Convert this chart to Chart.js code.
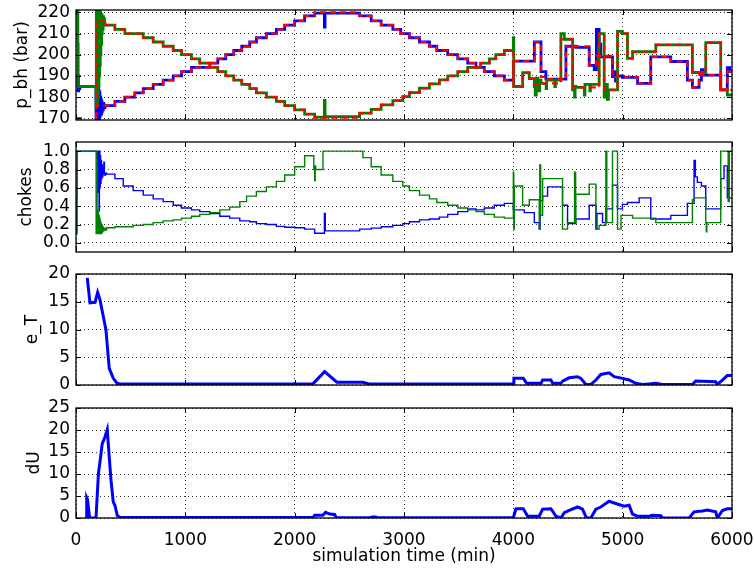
<!DOCTYPE html>
<html>
<head>
<meta charset="utf-8">
<script src="https://cdn.jsdelivr.net/npm/chart.js@4.4.0/dist/chart.umd.min.js"></script>
<style>
html, body { margin: 0; padding: 0; background: #fff; }
#wrap { position: relative; width: 754px; height: 569px; }
#wrap canvas { position: absolute; left: 0; top: 0; }
</style>
</head>
<body>
<div id="wrap">
  <canvas id="c1" width="754" height="569"></canvas>
  <canvas id="c2" width="754" height="569"></canvas>
  <canvas id="c3" width="754" height="569"></canvas>
  <canvas id="c4" width="754" height="569"></canvas>
</div>
<script>
// tick labels
const xTicks = [0, 1000, 2000, 3000, 4000, 5000, 6000]
const pbhTicks = [170, 180, 190, 200, 210, 220]
const chokeTicks = [0, 0.2, 0.4, 0.6, 0.8, 1.0]
const eTTicks = [0, 5, 10, 15, 20]
const dUTicks = [0, 5, 10, 15, 20, 25]

// p_bh, pairs of [time (min), bar]; each value holds until the next time
const pbhBlue = [
  [0,190],[18,183],[25,184],[35,185],
  [183,168],[186,190],[189,168],[192,188],[195,169],[198,186],[201,168],[204,185],[207,170],[210,183],
  [213,169],[216,182],[219,171],[222,180],[225,172],[228,179],[231,172],[234,178],[237,173],[240,177],
  [245,174],[250,177],[255,175],
  [265,176],[356,178],[447,180],[538,182],[615,184],[706,186],[797,188],[889,190],[965,192],[1056,194],
  [1224,196],[1297,198],[1370,200],[1443,202],[1516,204],[1589,206],[1650,208],[1741,210],[1833,212],
  [1909,214],[2000,216],[2091,218.3],[2183,219.6],[2272,213],[2278,219.6],
  [2594,218.3],[2700,216],[2791,214],[2898,212],[2970,210],[3050,208],[3142,206],[3233,204],[3300,202],
  [3400,200],[3492,198],[3583,196],[3659,194],[3735,192],[3826,190],[3918,188],
  [4000,197],[4192,206],[4253,192],[4298,188.5],[4481,204],[4572,203.5],[4694,195],[4740,193],[4760,212],
  [4785,205],[4800,199],[4831,199],[4907,189.7],[4920,192],[4935,187.5],[4950,190],[4998,189.3],
  [5136,186.5],[5257,199],[5440,196.8],[5592,188],[5638,184.6],[5699,188],[5720,193],[5740,190.4],
  [5897,183.4],[5957,193.9],[5980,192],[6000,192]
]
const pbhGreen = [
  [0,221],[14,221],[17,205],[20,190],[24,185],
  [183,175],[186,221],[189,178],[192,221],[195,176],[198,221],[201,180],[204,221],[207,185],[210,221],
  [213,190],[216,221],[219,195],[222,220],[225,200],[228,219],[231,205],[234,219],[237,210],[240,218],
  [244,212],[248,218],[252,214],[256,217],[260,215],
  [265,214],[356,212],[447,210],[615,208],[706,206],[797,204],[889,202],[965,200],[1056,198],[1132,196],
  [1224,194],[1297,192],[1370,190],[1443,188],[1516,186],[1589,184],[1650,182],[1741,180],[1833,178],
  [1909,176],[2000,174],[2091,172],[2183,170.6],[2272,178.5],[2278,170.8],
  [2594,172.4],[2700,174.2],[2791,176.3],[2898,178.3],[2989,180.2],[3050,182.1],[3142,184.2],[3233,186.2],
  [3324,188.1],[3400,190],[3492,192],[3583,194],[3700,196],[3781,198],[3840,200],[3918,202],
  [4000,208],[4004,185],[4085,191.5],[4146,188.7],[4192,185],[4200,181],[4210,189],[4225,183],[4240,188],
  [4253,186.5],[4300,184],[4305,188],[4380,185],[4385,188],[4435,210],[4466,207.3],[4542,183.4],
  [4560,180],[4565,185],[4572,184.6],[4650,181],[4655,186],[4700,183],[4705,186],[4785,210],[4831,180],
  [4845,186],[4860,179],[4870,183.4],[4953,211],[4998,210],[5044,198.3],[5090,201.4],[5303,204.6],
  [5638,191.6],[5760,205.7],[5897,183.4],[5957,181],[6000,181]
]
const pbhRef1 = [
  [0,170],[80,170],[81,null],[183,170],[185,216],
  [265,214],[356,212],[447,210],[615,208],[706,206],[797,204],[889,202],[965,200],[1056,198],[1132,196],
  [1224,194],[1297,192],[1370,190],[1443,188],[1516,186],[1589,184],[1650,182],[1741,180],[1833,178],
  [1909,176],[2000,174],[2091,172],[2183,170.3],
  [2594,172.4],[2700,174.2],[2791,176.3],[2898,178.3],[2989,180.2],[3050,182.1],[3142,184.2],[3233,186.2],
  [3324,188.1],[3400,190],[3492,192],[3583,194],[3700,196],[3781,198],[3840,200],[3918,202],
  [4000,185],[4085,191.5],[4146,188.7],[4192,186],[4253,186.5],[4435,207.3],[4542,184.6],[4785,210],
  [4831,183.4],[4953,210],[5044,198.3],[5090,201.4],[5303,204.6],[5638,191.6],[5760,205.7],[5897,183.4],
  [6000,183.4]
]
const pbhRef2 = [
  [0,170],[80,170],[81,null],[183,170],[185,176],
  [265,176],[356,178],[447,180],[538,182],[615,184],[706,186],[797,188],[889,190],[965,192],[1056,194],
  [1224,196],[1297,198],[1370,200],[1443,202],[1516,204],[1589,206],[1650,208],[1741,210],[1833,212],
  [1909,214],[2000,216],[2091,218.3],[2183,220],
  [2594,218.3],[2700,216],[2791,214],[2898,212],[2970,210],[3050,208],[3142,206],[3233,204],[3300,202],
  [3400,200],[3492,198],[3583,196],[3659,194],[3735,192],[3826,190],[3918,188],
  [4000,197],[4192,206],[4253,189.5],[4298,188.5],[4481,204],[4694,195],[4755,199.5],[4907,189.5],
  [5136,186.5],[5257,199],[5440,196.8],[5592,188],[5638,184.6],[5699,190.4],[5897,183.4],[5957,192],
  [6000,192]
]

// chokes
const chokeBlue = [
  [0,0.1],[8,0.5],[12,1.0],[183,1.0],
  [190,0.6],[193,1.0],[197,0.55],[200,1.0],[204,0.7],[207,1.0],[211,0.35],[214,1.0],[218,0.6],[221,0.95],
  [225,0.65],[229,0.9],[233,0.7],[237,0.85],[241,0.72],[245,0.82],[250,0.75],[255,0.88],[260,0.74],
  [270,0.76],[280,0.75],
  [356,0.70],[432,0.62],[523,0.57],[615,0.52],[706,0.48],[797,0.45],[889,0.41],[965,0.38],[1056,0.36],
  [1132,0.34],[1224,0.32],[1315,0.29],[1406,0.27],[1498,0.24],[1589,0.23],[1650,0.21],[1741,0.20],
  [1833,0.18],[1909,0.17],[2000,0.165],[2091,0.15],[2183,0.105],[2272,0.32],[2280,0.13],
  [2594,0.15],[2700,0.16],[2791,0.175],[2898,0.19],[2989,0.21],[3050,0.23],[3142,0.25],[3233,0.26],
  [3324,0.28],[3400,0.31],[3492,0.34],[3583,0.37],[3659,0.36],[3735,0.38],[3826,0.41],[3918,0.43],
  [4000,0.36],[4100,0.33],[4192,0.22],[4237,0.15],[4245,0.46],[4268,0.51],[4313,0.61],[4450,0.41],
  [4496,0.21],[4572,0.26],[4694,0.41],[4755,0.15],[4765,0.32],[4816,0.22],[4846,0.37],[4907,0.63],
  [4953,0.37],[4998,0.42],[5044,0.44],[5151,0.49],[5257,0.26],[5440,0.30],[5592,0.43],[5653,0.9],
  [5665,0.72],[5683,0.66],[5720,0.62],[5760,0.37],[5897,0.70],[5927,0.84],[5957,0.49],[6000,0.49]
]
const chokeGreen = [
  [0,0.1],[8,0.5],[12,1.0],[183,1.0],[184,0.1],
  [186,1.0],[188,0.1],[191,0.9],[193,0.12],[196,0.33],[199,0.1],[202,0.35],[205,0.1],[208,0.3],[211,0.1],
  [214,0.28],[217,0.1],[220,0.25],[223,0.1],[226,0.22],[229,0.1],[232,0.2],[235,0.11],[238,0.19],
  [241,0.12],[245,0.17],[250,0.13],[255,0.16],[265,0.14],
  [280,0.165],[356,0.175],[523,0.19],[615,0.2],[706,0.22],[797,0.24],[889,0.25],[965,0.27],[1056,0.29],
  [1132,0.31],[1224,0.33],[1315,0.36],[1406,0.39],[1498,0.45],[1560,0.51],[1650,0.56],[1741,0.61],
  [1833,0.67],[1909,0.74],[2000,0.83],[2091,0.95],[2175,0.80],[2183,0.68],[2188,0.84],[2192,0.80],
  [2259,1.0],[2624,0.93],[2700,0.83],[2791,0.74],[2898,0.67],[2989,0.62],[3050,0.57],[3142,0.52],
  [3233,0.48],[3300,0.44],[3400,0.41],[3492,0.38],[3583,0.36],[3659,0.34],[3735,0.31],[3826,0.28],
  [3918,0.27],
  [4000,0.77],[4004,0.15],[4009,0.62],[4085,0.41],[4146,0.47],[4237,0.15],[4242,0.85],[4250,0.3],
  [4268,0.7],[4313,0.70],[4450,0.15],[4496,0.22],[4560,0.77],[4570,0.22],[4572,0.53],[4694,0.64],
  [4755,0.15],[4785,0.19],[4846,1.0],[4855,0.22],[4907,1.0],[4953,0.15],[4985,0.3],[5090,0.27],
  [5257,0.27],[5303,0.22],[5592,0.22],[5638,0.47],[5653,0.49],[5760,0.22],[5765,0.12],[5770,0.22],
  [5897,1.0],[5965,0.45],[5975,1.0],[6000,1.0]
]

// e_T
const eT = [
  [103,19.3],[128,14.8],[174,14.9],[198,16.7],[219,15.4],[274,9.9],[304,3.0],[341,1.2],[377,0.3],[400,0.2],
  [2167,0.2],[2274,2.4],[2386,0.5],[2624,0.5],[2680,0.2],[4000,0.2],[4005,1.2],[4091,1.2],[4122,0.3],
  [4253,0.3],[4268,0.9],[4344,0.9],[4360,0.3],[4435,0.3],[4450,0.7],[4511,1.3],[4587,1.5],[4618,1.2],
  [4663,0.1],[4709,0.1],[4755,0.9],[4800,1.9],[4876,2.2],[4922,1.5],[4998,1.2],[5059,0.9],[5120,0.3],
  [5181,0.1],[5242,0.2],[5303,0.3],[5364,0.1],[5638,0.1],[5668,0.7],[5851,0.6],[5866,0.1],[5912,0.9],
  [5957,1.7],[6000,1.7]
]

// dU
const dU = [
  [95,0],[98,4.6],[105,4.2],[125,0],[183,0],[205,10.1],[219,12.7],[240,16.9],[265,18.4],[286,20.1],
  [304,13.9],[320,8.6],[341,3.6],[356,2.9],[377,0.6],[402,0.1],[2167,0.1],[2183,0.6],[2258,0.6],
  [2283,1.3],[2320,0.9],[2365,0.8],[2380,0.05],[2690,0.05],[2710,0.2],[2740,0.2],[2760,0.05],
  [4000,0.05],[4024,2.1],[4091,2.1],[4131,0.4],[4237,0.4],[4268,2.0],[4344,2.1],[4390,0.4],[4435,0],
  [4466,1.2],[4511,1.75],[4587,2.5],[4633,2.0],[4669,0],[4709,0],[4755,2.0],[4800,2.5],[4876,3.8],
  [4937,3.3],[5013,2.7],[5059,2.9],[5090,0.9],[5136,0.4],[5242,0.4],[5272,0.6],[5349,0.5],[5364,0],
  [5608,0],[5653,1.4],[5729,1.6],[5775,1.8],[5851,1.4],[5866,0],[5912,1.7],[5957,2.1],[6000,2.1]
]

const FONT = 'DejaVu Sans'
const toXY = arr => arr.map(p => ({x: p[0], y: p[1]}))

// frame plus inward ticks on all four sides (matplotlib look)
const framePlugin = {
  id: 'frame',
  afterDraw(chart) {
    const ctx = chart.ctx
    const a = chart.chartArea
    const sx = chart.scales.x, sy = chart.scales.y
    ctx.save()
    ctx.strokeStyle = '#000'
    ctx.lineWidth = 1
    ctx.beginPath()
    sx.ticks.forEach(t => {
      const px = Math.round(sx.getPixelForValue(t.value)) + 0.5
      ctx.moveTo(px, a.bottom); ctx.lineTo(px, a.bottom - 5)
      ctx.moveTo(px, a.top); ctx.lineTo(px, a.top + 5)
    })
    sy.ticks.forEach(t => {
      const py = Math.round(sy.getPixelForValue(t.value)) + 0.5
      ctx.moveTo(a.left, py); ctx.lineTo(a.left + 5, py)
      ctx.moveTo(a.right, py); ctx.lineTo(a.right - 5, py)
    })
    ctx.stroke()
    ctx.lineWidth = 1.3
    ctx.strokeRect(a.left, a.top, a.right - a.left, a.bottom - a.top)
    ctx.restore()
  }
}

// 'before' in chart.js = hold previous value until the next x, then jump
function line(data, color, width, stepped, dash) {
  return {
    data: toXY(data),
    borderColor: color,
    borderWidth: width,
    borderDash: dash || [],
    stepped: stepped ? 'before' : false,
    pointRadius: 0,
    fill: false,
    tension: 0,
    spanGaps: false,
    clip: 0
  }
}

function panel(id, datasets, ylab, yTicks, ymin, ymax, top, bottom, titlePad, fmt, showX) {
  const xAxisH = showX ? 569 - bottom : 0
  new Chart(document.getElementById(id), {
    type: 'line',
    data: {datasets: datasets},
    plugins: [framePlugin],
    options: {
      responsive: false,
      animation: false,
      events: [],
      layout: {padding: {left: 0, right: 22, top: top, bottom: 569 - bottom - xAxisH}},
      plugins: {legend: {display: false}, tooltip: {enabled: false}},
      scales: {
        x: {
          type: 'linear', min: 0, max: 6000,
          afterBuildTicks: s => { s.ticks = xTicks.map(v => ({value: v})) },
          afterFit: s => { s.height = xAxisH; s.paddingLeft = 0; s.paddingRight = 0 },
          grid: {color: '#000', lineWidth: 0.8, drawTicks: false},
          border: {display: false, dash: [1, 3]},
          ticks: {
            display: showX, autoSkip: false, maxRotation: 0, padding: 12,
            color: '#000', font: {family: FONT, size: 17},
            callback: v => String(v)
          },
          title: {
            display: showX, text: 'simulation time (min)', color: '#000',
            font: {family: FONT, size: 17}, padding: {top: 0, bottom: 2}
          }
        },
        y: {
          type: 'linear', min: ymin, max: ymax,
          afterBuildTicks: s => { s.ticks = yTicks.map(v => ({value: v})) },
          afterFit: s => { s.width = 76; s.paddingTop = 0; s.paddingBottom = 0 },
          grid: {color: '#000', lineWidth: 0.8, drawTicks: false},
          border: {display: false, dash: [1, 3]},
          ticks: {
            autoSkip: false, padding: 6, color: '#000',
            font: {family: FONT, size: 17},
            callback: fmt
          },
          title: {
            display: true, text: ylab, color: '#000',
            font: {family: FONT, size: 17}, padding: {top: titlePad, bottom: 0}
          }
        }
      }
    }
  })
}

panel('c1', [
  line(pbhRef1, '#ff0000', 2.2, true, [6, 4]),
  line(pbhRef2, '#ff0000', 2.2, true, [6, 4]),
  line(pbhGreen, '#008000', 2.8, true),
  line(pbhBlue, '#0000ff', 2.8, true)
], 'p_bh (bar)', pbhTicks, 169.2, 221.1, 10, 120, 12, v => String(v), false)

panel('c2', [
  line(chokeGreen, '#008000', 1.4, true),
  line(chokeBlue, '#0000ff', 1.4, true)
], 'chokes', chokeTicks, -0.1, 1.1, 142, 252, 16, v => v.toFixed(1), false)

panel('c3', [
  line(eT, '#0000ff', 3, false)
], 'e_T', eTTicks, 0, 20, 274, 385, 22, v => String(v), false)

panel('c4', [
  line(dU, '#0000ff', 3, false)
], 'dU', dUTicks, 0, 25, 408, 518, 24, v => String(v), true)
</script>
</body>
</html>
